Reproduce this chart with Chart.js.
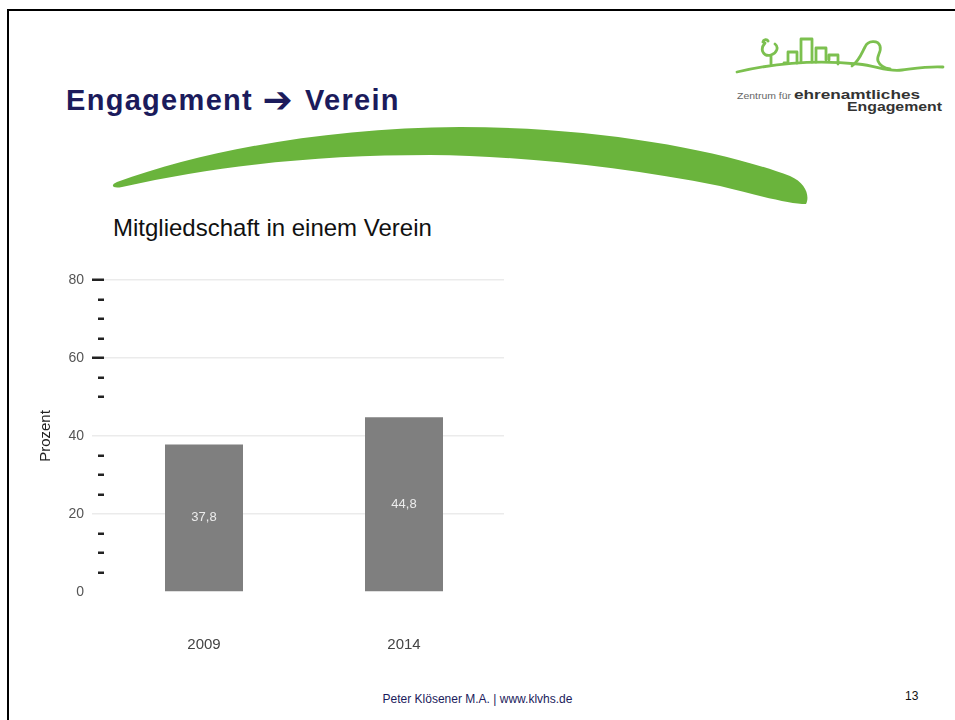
<!DOCTYPE html>
<html>
<head>
<meta charset="utf-8">
<script src="https://cdn.jsdelivr.net/npm/chart.js@4"></script>
<style>
  html, body { margin: 0; padding: 0; background: #fff; }
  body { width: 955px; height: 720px; position: relative; overflow: hidden; font-family: "Liberation Sans", Arial, sans-serif; }
  .frame { position: absolute; left: 7px; top: 9px; width: 960px; height: 730px; border: 2px solid #000; box-sizing: border-box; }
  .title { position: absolute; left: 66px; top: 85px; font-size: 29px; line-height: 29px; font-weight: bold; color: #1b1b5c; white-space: nowrap; letter-spacing: 1.3px; }
  .title .arrow { font-family: "DejaVu Sans", sans-serif; font-weight: bold; font-size: 36px; line-height: 29px; letter-spacing: 0; margin: 0 3px 0 0; vertical-align: -2px; }
  .subtitle { position: absolute; left: 113px; top: 216px; font-size: 24px; line-height: 24px; color: #111; white-space: nowrap; }
  .footer { position: absolute; left: 0; width: 955px; top: 692px; text-align: center; font-size: 12px; color: #1b1b5c; }
  .page { position: absolute; left: 905px; top: 689px; font-size: 12px; color: #111; }
  .deco { position: absolute; left: 0; top: 0; }
  .chart-box { position: absolute; left: 30px; top: 260px; width: 480px; height: 400px; }
</style>
</head>
<body>
<div class="frame"></div>

<svg class="deco" width="955" height="720">
  <!-- green swoosh -->
  <path d="M117,182 C200,152 320,128 460,127 C600,127 720,150 790,176 C806,183 810,196 806,204
           C790,204 760,196 720,186 C620,166 520,156 430,155 C320,155 220,165 122,187 C112,189 110,185 117,182 Z"
        fill="#6ab43c"/>
  <!-- logo -->
  <g fill="none" stroke="#7cc04f" stroke-width="2.8" stroke-linecap="round" stroke-linejoin="round">
    <path d="M737,72 C780,62 820,60 858,64 C878,66 886,72 902,70 C918,68 930,66 943,67"/>
    <path d="M771,64 L771,55 M765,43 C759,50 764,57 771,55 C777,53 779,47 775,44 M763,42 C764,39 767,39 768,41"/>
    <path d="M784,63 L788,63 L788,52 L797,52 L797,63 M801,62 L801,39 L812,39 L812,62 M816,62 L816,48 L826,48 L826,60 M829,60 L829,55 L838,55 L838,64"/>
    <path d="M852,66 C860,60 862,52 865,47 C868,40 878,40 880,46 C882,52 876,56 878,61 C880,66 884,68 890,69"/>
  </g>
  <text x="737" y="99" font-family="Liberation Sans, Arial" font-size="8.5" fill="#666" textLength="54" lengthAdjust="spacingAndGlyphs">Zentrum für</text>
  <text x="794" y="99" font-family="Liberation Sans, Arial" font-size="13.5" font-weight="bold" fill="#333" textLength="126" lengthAdjust="spacingAndGlyphs">ehrenamtliches</text>
  <text x="847" y="111" font-family="Liberation Sans, Arial" font-size="13.5" font-weight="bold" fill="#333" textLength="95" lengthAdjust="spacingAndGlyphs">Engagement</text>
</svg>

<div class="title">Engagement <span class="arrow">➔</span> Verein</div>
<div class="subtitle">Mitgliedschaft in einem Verein</div>

<div class="chart-box"><canvas id="chart"></canvas></div>

<div class="footer">Peter Klösener M.A. | www.klvhs.de</div>
<div class="page">13</div>

<script>
const years = ["2009", "2014"];
const membership = [37.8, 44.8];
const yMin = 0;
const yMax = 80;
const yStep = 5;
const majorStep = 20;
const missingMinor = [45]; // this minor dash is not drawn in the original

const isMajor = v => v % majorStep === 0;

const barLabels = {
  id: "barLabels",
  afterDatasetsDraw(chart) {
    const ctx = chart.ctx;
    const meta = chart.getDatasetMeta(0);
    ctx.save();
    ctx.fillStyle = "#ececec";
    ctx.font = "13px 'Liberation Sans', Arial, sans-serif";
    ctx.textAlign = "center";
    ctx.textBaseline = "middle";
    meta.data.forEach((bar, i) => {
      const label = membership[i].toFixed(1).replace(".", ",");
      ctx.fillText(label, bar.x, (bar.y + bar.base) / 2);
    });
    ctx.restore();
  }
};

new Chart(document.getElementById("chart"), {
  type: "bar",
  data: {
    labels: years,
    datasets: [{
      data: membership,
      backgroundColor: "#7f7f7f",
      barPercentage: 0.39,
      categoryPercentage: 1,
    }],
  },
  plugins: [barLabels],
  options: {
    responsive: true,
    maintainAspectRatio: false,
    animation: false,
    layout: { padding: { left: 7, right: 6, top: 20, bottom: 0 } },
    plugins: {
      legend: { display: false },
      tooltip: { enabled: false },
    },
    scales: {
      x: {
        grid: { display: false },
        border: { display: false },
        ticks: {
          color: "#444",
          padding: 36,
          font: { family: "'Liberation Sans', Arial, sans-serif", size: 15 },
        },
        afterFit: scale => { scale.height = 68; },
      },
      y: {
        min: yMin,
        max: yMax,
        border: { display: false },
        title: {
          display: true,
          text: "Prozent",
          color: "#222",
          padding: 0,
          font: { family: "'Liberation Sans', Arial, sans-serif", size: 15 },
        },
        ticks: {
          stepSize: yStep,
          autoSkip: false,
          padding: 8,
          color: "#555",
          font: { family: "'Liberation Sans', Arial, sans-serif", size: 14 },
          callback: v => isMajor(v) ? v : "",
        },
        grid: {
          tickLength: 12,
          lineWidth: 1.5,
          color: ctx => (ctx.tick && isMajor(ctx.tick.value) && ctx.tick.value > yMin) ? "#ebebeb" : "rgba(0,0,0,0)",
          tickColor: ctx => {
            const v = ctx.tick ? ctx.tick.value : 0;
            if (v === yMin || missingMinor.includes(v)) return "rgba(0,0,0,0)";
            if (isMajor(v)) return v >= 60 ? "#222" : "#ebebeb";
            return "#222";
          },
          tickWidth: ctx => {
            const v = ctx.tick ? ctx.tick.value : 0;
            return isMajor(v) ? (v >= 60 ? 2.5 : 1.5) : 2.5;
          },
          tickBorderDash: ctx => {
            const v = ctx.tick ? ctx.tick.value : 0;
            return isMajor(v) ? [] : [0, 6, 6, 30];
          },
        },
        afterFit: scale => { scale.width = 67; },
      },
    },
  },
});
</script>
</body>
</html>
